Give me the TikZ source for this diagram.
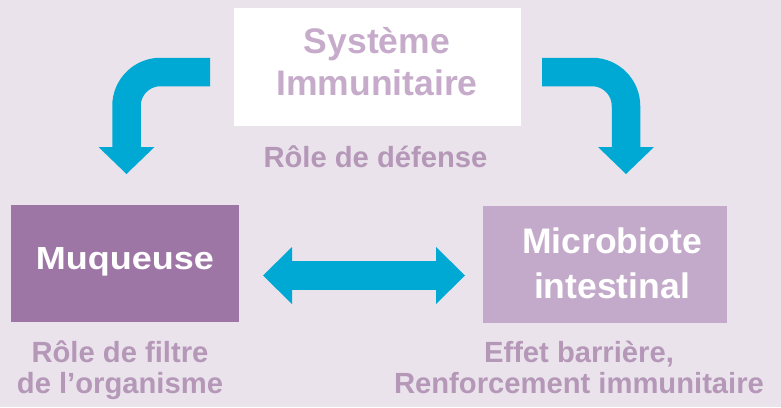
\documentclass[tikz,border=0pt]{standalone}
\usepackage{fontspec}
\setmainfont{Liberation Sans}
\definecolor{bg}{HTML}{EAE3EC}
\definecolor{muqc}{HTML}{9E76A6}
\definecolor{micc}{HTML}{C4AACA}
\definecolor{systxt}{HTML}{C6ABCB}
\definecolor{lblc}{HTML}{B598B8}
\definecolor{arrowc}{HTML}{00A9D4}
\begin{document}
\begin{tikzpicture}[x=1pt,y=-1pt,
  boxnode/.style={inner sep=0pt, outer sep=0pt},
  boxtext/.style={inner sep=0pt, align=center, font=\bfseries\fontsize{35}{44}\selectfont},
  lab/.style={inner sep=0pt, align=center, text=lblc, font=\bfseries\fontsize{29.2}{31}\selectfont},
  shaft/.style={draw=arrowc, line width=28.5pt},
  headfill/.style={fill=arrowc}
]
\fill[bg] (0,0) rectangle (781,407);
\useasboundingbox (0,0) rectangle (781,407);

% boxes
\node[boxnode, fill=white, minimum width=287pt, minimum height=118pt] (sys) at (377.5,67) {};
\node[boxnode, fill=muqc, minimum width=228pt, minimum height=117pt] (muq) at (125,263.5) {};
\node[boxnode, fill=micc, minimum width=244pt, minimum height=117pt] (mic) at (605,264.5) {};

% box texts
\node[boxtext, text=systxt, font=\bfseries\fontsize{35.5}{42.5}\selectfont] (systext) at (377,61.5) {Système\\Immunitaire};
\node[boxtext, text=white, anchor=base] (muqtext) at (125,269.3) {\fontsize{32}{38}\selectfont\scalebox{1.125}[1]{Muqueuse}};
\node[boxtext, text=white, font=\bfseries\fontsize{35.5}{45}\selectfont] (mictext) at (612,263) {Microbiote\\intestinal};

% labels
\node[lab, anchor=base] (def) at (375.5,167) {Rôle de défense};
\node[lab] (filt) at (120,370) {Rôle de filtre\\de l’organisme};
\node[lab] (barr) at (579,367) {Effet barrière,\\Renforcement immunitaire};

% arrow end points
\coordinate (ls) at (210,72);
\coordinate (lt) at (126.5,174);
\coordinate (rs) at (542,72);
\coordinate (rt) at (626,174);
\coordinate (dl) at (263,275.5);
\coordinate (dr) at (465,275.5);

% left bent arrow
\draw[shaft, rounded corners=34pt] (ls) -| ([yshift=26.5pt]lt);
\fill[headfill] ([xshift=-28pt,yshift=27pt]lt) -- ([xshift=28pt,yshift=27pt]lt) -- (lt) -- cycle;

% right bent arrow
\draw[shaft, rounded corners=34pt] (rs) -| ([yshift=26.5pt]rt);
\fill[headfill] ([xshift=-28pt,yshift=27pt]rt) -- ([xshift=28pt,yshift=27pt]rt) -- (rt) -- cycle;

% double arrow
\draw[shaft, line width=29pt] ([xshift=28.5pt]dl) -- ([xshift=-28.5pt]dr);
\fill[headfill] (dl) -- ([xshift=29pt,yshift=28.5pt]dl) -- ([xshift=29pt,yshift=-28.5pt]dl) -- cycle;
\fill[headfill] (dr) -- ([xshift=-29pt,yshift=28.5pt]dr) -- ([xshift=-29pt,yshift=-28.5pt]dr) -- cycle;
\end{tikzpicture}
\end{document}
